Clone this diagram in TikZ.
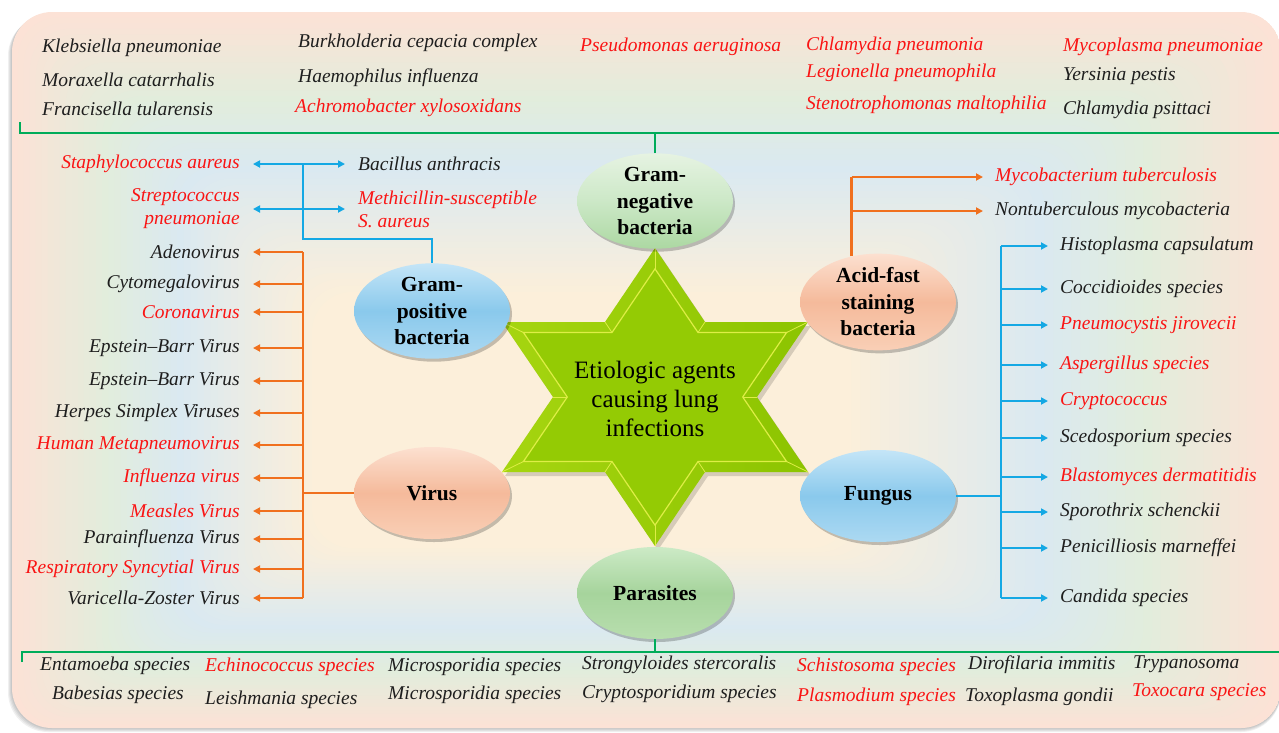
\documentclass[tikz,border=0pt]{standalone}
\usepackage{fontspec}
\setmainfont{Liberation Serif}
\usetikzlibrary{shapes.geometric,arrows.meta,shadows,calc}
\definecolor{pinkbg}{RGB}{252,226,214}
\definecolor{greenbg}{RGB}{226,237,220}
\definecolor{bluebg}{RGB}{218,233,241}
\definecolor{creambg}{RGB}{252,239,218}
\definecolor{txt}{RGB}{30,30,30}
\definecolor{rtxt}{RGB}{250,20,20}
\definecolor{cblue}{RGB}{20,168,228}
\definecolor{corange}{RGB}{240,112,30}
\definecolor{cgreen}{RGB}{0,172,90}
\definecolor{starA}{RGB}{166,213,16}
\definecolor{starB}{RGB}{140,196,0}
\definecolor{starC}{RGB}{148,203,4}
\definecolor{starEdge}{RGB}{222,238,70}
\newcommand\hexstarpath{(0,-149) -- (50,-75) -- (153,-75) -- (102,0) -- (153,75) -- (50,75) -- (0,149) -- (-50,75) -- (-153,75) -- (-102,0) -- (-153,-75) -- (-50,-75) -- cycle}
\begin{document}
\begin{tikzpicture}[x=1pt,y=-1pt,
  item/.style={font=\fontsize{19.5}{23}\selectfont\itshape, inner sep=0pt, text=txt},
  ritem/.style={item, text=rtxt},
  ell/.style={ellipse, minimum width=156pt, minimum height=92pt, inner sep=0pt, align=center,
    font=\fontsize{21.5}{26.5}\selectfont\bfseries, text=black,
    drop shadow={shadow xshift=2pt, shadow yshift=-3pt, opacity=0.22, fill=black}},
  eblue/.style={top color={rgb,255:red,196;green,229;blue,247}, bottom color={rgb,255:red,172;green,217;blue,242}, middle color={rgb,255:red,138;green,201;blue,236}},
  epeach/.style={top color={rgb,255:red,252;green,224;blue,208}, bottom color={rgb,255:red,249;green,207;blue,182}, middle color={rgb,255:red,245;green,186;blue,155}},
  egreen/.style={top color={rgb,255:red,230;green,243;blue,226}, bottom color={rgb,255:red,172;green,216;blue,162}, middle color={rgb,255:red,204;green,232;blue,199}},
  egreenb/.style={top color={rgb,255:red,204;green,234;blue,198}, bottom color={rgb,255:red,184;green,222;blue,174}, middle color={rgb,255:red,166;green,212;blue,156}},
  bline/.style={cblue, line width=2.8pt},
  barr/.style={bline, -{Triangle[length=7pt,width=7pt]}},
  oline/.style={corange, line width=2.8pt},
  oarr/.style={oline, -{Triangle[length=7pt,width=7pt]}},
  gline/.style={cgreen, line width=2.8pt}
]
\useasboundingbox (0,0) rectangle (1279,732);
% panel shadow
\foreach \k in {1,...,4}
  \fill[black, opacity=0.06, rounded corners=40pt] (12-\k,12+\k) rectangle (1281,728+\k);
% panel background (nested gradient)
\begin{scope}
\clip[rounded corners=40pt] (12,12) rectangle (1281,728);
\foreach \i in {0,...,14}{
  \pgfmathsetmacro\t{0.3*\i/15}
  \pgfmathtruncatemacro\p{100*\i/15}
  \fill[greenbg!\p!pinkbg, rounded corners=40pt] (12+\t*300,12+\t*280) rectangle (1281-\t*430,728-\t*180);
}
\foreach \i in {0,...,11}{
  \pgfmathsetmacro\t{0.3+0.25*\i/12}
  \pgfmathtruncatemacro\p{100*\i/12}
  \fill[bluebg!\p!greenbg, rounded corners=40pt] (12+\t*300,12+\t*280) rectangle (1281-\t*430,728-\t*180);
}
\foreach \i in {0,...,20}{
  \pgfmathsetmacro\t{0.55+0.45*\i/20}
  \pgfmathtruncatemacro\p{100*\i/20}
  \fill[creambg!\p!bluebg, rounded corners=40pt] (12+\t*300,12+\t*280) rectangle (1281-\t*430,728-\t*180);
}
\end{scope}

% star
\fill[black, opacity=0.15, shift={(658,401)}] \hexstarpath;
\shade[left color=starA, right color=starB, shift={(655,397)}] \hexstarpath;
\foreach \a/\b in {0/-149,153/-75,153/75,0/149,-153/75,-153/-75,50/-75,102/0,50/75,-50/75,-102/0,-50/-75}
  \draw[starEdge, line width=0.8pt, shift={(655,397)}] (\a,\b) -- (0.86*\a,0.86*\b);
\fill[starC, draw=starEdge, line width=1.2pt, shift={(655,397)}, scale=0.86] \hexstarpath;
\node[font=\fontsize{25}{29}\selectfont, align=center, text=black] (center) at (655,399) {Etiologic agents\\causing lung\\infections};

% ellipses
\node[ell, egreen] (gneg) at (655,201) {Gram-\\negative\\bacteria};
\node[ell, egreenb] (para) at (655,593) {Parasites};
\node[ell, eblue] (gpos) at (432,311) {Gram-\\positive\\bacteria};
\node[ell, epeach] (virus) at (432,493) {Virus};
\node[ell, epeach] (acid) at (878,302) {Acid-fast\\staining\\bacteria};
\node[ell, eblue] (fung) at (878,496) {Fungus};

% top strip
\node[item, anchor=west] (n1) at (42,48) {Klebsiella pneumoniae};
\node[item, anchor=west] (n2) at (42,80) {Moraxella catarrhalis};
\node[item, anchor=west] (n3) at (42,109) {Francisella tularensis};
\node[item, anchor=west] (n4) at (298,43) {Burkholderia cepacia complex};
\node[item, anchor=west] (n5) at (298,78) {Haemophilus influenza};
\node[ritem, anchor=west] (n6) at (295,108) {Achromobacter xylosoxidans};
\node[ritem, anchor=west] (n7) at (580,47) {Pseudomonas aeruginosa};
\node[ritem, anchor=west] (n8) at (806,46) {Chlamydia pneumonia};
\node[ritem, anchor=west] (n9) at (806,73) {Legionella pneumophila};
\node[ritem, anchor=west] (n10) at (806,105) {Stenotrophomonas maltophilia};
\node[ritem, anchor=west] (n11) at (1063,47) {Mycoplasma pneumoniae};
\node[item, anchor=west] (n12) at (1063,76) {Yersinia pestis};
\node[item, anchor=west] (n13) at (1063,110) {Chlamydia psittaci};

% bottom strip
\node[item, anchor=west] (b1) at (40,666) {Entamoeba species};
\node[item, anchor=west] (b2) at (52,695) {Babesias species};
\node[ritem, anchor=west] (b3) at (205,667) {Echinococcus species};
\node[item, anchor=west] (b4) at (205,700) {Leishmania species};
\node[item, anchor=west] (b5) at (388,667) {Microsporidia species};
\node[item, anchor=west] (b6) at (388,695) {Microsporidia species};
\node[item, anchor=west] (b7) at (582,665) {Strongyloides stercoralis};
\node[item, anchor=west] (b8) at (582,694) {Cryptosporidium species};
\node[ritem, anchor=west] (b9) at (797,667) {Schistosoma species};
\node[ritem, anchor=west] (b10) at (797,697) {Plasmodium species};
\node[item, anchor=west] (b11) at (968,665) {Dirofilaria immitis};
\node[item, anchor=west] (b12) at (965,697) {Toxoplasma gondii};
\node[item, anchor=west] (b13) at (1133,664) {Trypanosoma};
\node[ritem, anchor=west] (b14) at (1132,692) {Toxocara species};

% green brackets
\coordinate (tl) at (20,122);
\coordinate (tr) at (1281,133);
\draw[gline] (tl) |- (tr);
\draw[gline] (gneg.north) -- (gneg.north |- tr);
\coordinate (bl) at (22,662);
\coordinate (br) at (1281,652);
\draw[gline] (bl) |- (br);
\draw[gline] (para.south) -- (para.south |- br);

% gram-positive
\node[ritem, anchor=east] (s1) at (240,164) {Staphylococcus aureus};
\node[ritem, anchor=east, align=right] (s2) at (240,209) {Streptococcus\\pneumoniae};
\node[item, anchor=west] (s3) at (358,164) {Bacillus anthracis};
\node[ritem, anchor=west, align=left] (s4) at (358,209) {Methicillin-susceptible\\S. aureus};
\coordinate (gpj) at (303,239);
\coordinate (s3w) at ([xshift=-13pt]s3.west);
\coordinate (s4w) at ([xshift=-13pt]s4.west);
\draw[bline] (gpos.north) |- (gpj) -- (gpj |- s1.east);
\draw[barr] (gpj |- s1.east) -- ([xshift=13pt]s1.east);
\draw[barr] (gpj |- s1.east) -- (s3w |- s1.east);
\draw[barr] (gpj |- s2.east) -- ([xshift=13pt]s2.east);
\draw[barr] (gpj |- s2.east) -- (s4w |- s2.east);

% virus
\node[item, anchor=east] (v1) at (240,252) {Adenovirus};
\node[item, anchor=east] (v2) at (240,284) {Cytomegalovirus};
\node[ritem, anchor=east] (v3) at (240,312) {Coronavirus};
\node[item, anchor=east] (v4) at (240,348) {Epstein–Barr Virus};
\node[item, anchor=east] (v5) at (240,381) {Epstein–Barr Virus};
\node[item, anchor=east] (v6) at (240,413) {Herpes Simplex Viruses};
\node[ritem, anchor=east] (v7) at (240,445) {Human Metapneumovirus};
\node[ritem, anchor=east] (v8) at (240,478) {Influenza virus};
\node[ritem, anchor=east] (v9) at (240,511) {Measles Virus};
\node[item, anchor=east] (v10) at (240,539) {Parainfluenza Virus};
\node[ritem, anchor=east] (v11) at (240,569) {Respiratory Syncytial Virus};
\node[item, anchor=east] (v12) at (240,598) {Varicella-Zoster Virus};
\coordinate (vx) at (303,493);
\draw[oline] (vx |- v1.east) -- (vx |- v12.east);
\draw[oline] (virus.west) -- (vx |- virus.west);
\foreach \k in {1,...,12}
  \draw[oarr] (vx |- v\k.east) -- ([xshift=13pt]v\k.east);

% acid-fast
\node[ritem, anchor=west] (a1) at (995,177) {Mycobacterium tuberculosis};
\node[item, anchor=west] (a2) at (995,211) {Nontuberculous mycobacteria};
\coordinate (a1w) at ([xshift=-12pt]a1.west);
\coordinate (a2w) at ([xshift=-12pt]a2.west);
\draw[oline] (acid.120) -- (acid.120 |- a1.west);
\draw[oarr] (acid.120 |- a1.west) -- (a1w);
\draw[oarr] (acid.120 |- a2.west) -- (a2w);

% fungus
\node[item, anchor=west] (f1) at (1060,246) {Histoplasma capsulatum};
\node[item, anchor=west] (f2) at (1060,289) {Coccidioides species};
\node[ritem, anchor=west] (f3) at (1060,325) {Pneumocystis jirovecii};
\node[ritem, anchor=west] (f4) at (1060,365) {Aspergillus species};
\node[ritem, anchor=west] (f5) at (1060,401) {Cryptococcus};
\node[item, anchor=west] (f6) at (1060,438) {Scedosporium species};
\node[ritem, anchor=west] (f7) at (1060,477) {Blastomyces dermatitidis};
\node[item, anchor=west] (f8) at (1060,512) {Sporothrix schenckii};
\node[item, anchor=west] (f9) at (1060,548) {Penicilliosis marneffei};
\node[item, anchor=west] (f10) at (1060,598) {Candida species};
\coordinate (fx) at (1001,496);
\draw[bline] (fx |- f1.west) -- (fx |- f10.west);
\draw[bline] (fung.east) -- (fx |- fung.east);
\foreach \k in {1,...,10}
  \draw[barr] (fx |- f\k.west) -- ([xshift=-12pt]f\k.west);
\end{tikzpicture}
\end{document}
